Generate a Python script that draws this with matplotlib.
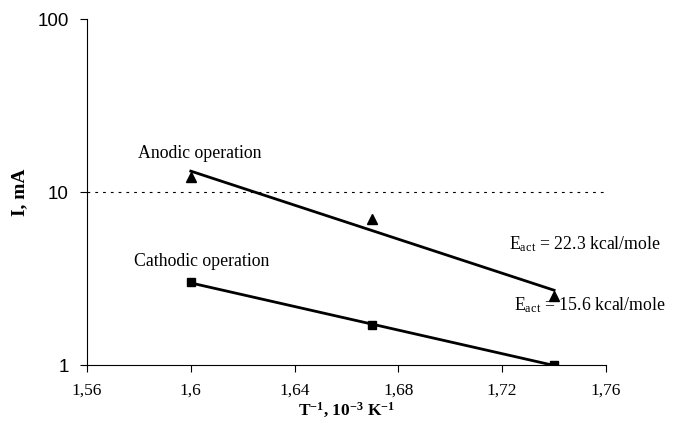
import numpy as np
import matplotlib.pyplot as plt
from matplotlib.ticker import FixedLocator, FixedFormatter, NullLocator

# inverse temperature, 10^-3 K^-1
inv_t = np.array([1.60, 1.67, 1.74])
# current, mA
i_anodic = np.array([12.2, 7.0, 2.5])
i_cathodic = np.array([3.0, 1.7, 1.0])

x_ticks = [1.56, 1.60, 1.64, 1.68, 1.72, 1.76]
x_ticklabels = ["1,56", "1,6", "1,64", "1,68", "1,72", "1,76"]
y_ticks = [1, 10, 100]
y_ticklabels = ["1", "10", "100"]

serif = "Liberation Serif"
sans = "Liberation Sans"

plt.rcParams["mathtext.fontset"] = "custom"
plt.rcParams["mathtext.rm"] = serif
plt.rcParams["mathtext.it"] = serif + ":italic"
plt.rcParams["mathtext.bf"] = serif + ":bold"

fig = plt.figure(figsize=(6.73, 4.41), dpi=100)
ax = fig.add_axes([0.1293, 0.1723, 0.7711, 0.7846])

# Arrhenius fits in log space
def arrhenius_fit(x, y):
    k, b = np.polyfit(x, np.log10(y), 1)
    return 10 ** (k * x + b)

ax.axhline(10, color="black", lw=0.8, ls=(0, (2.5, 4.5)), zorder=1)

ax.plot(inv_t, arrhenius_fit(inv_t, i_anodic), color="black", lw=2.0, zorder=2)
ax.plot(inv_t, arrhenius_fit(inv_t, i_cathodic), color="black", lw=2.0, zorder=2)
ax.plot(inv_t, i_anodic, ls="none", marker="^", ms=6.5, color="black", zorder=3)
ax.plot(inv_t, i_cathodic, ls="none", marker="s", ms=6, color="black", zorder=3)

ax.set_yscale("log")
ax.set_xlim(1.56, 1.76)
ax.set_ylim(1, 100)

ax.xaxis.set_major_locator(FixedLocator(x_ticks))
ax.xaxis.set_major_formatter(FixedFormatter(x_ticklabels))
ax.yaxis.set_major_locator(FixedLocator(y_ticks))
ax.yaxis.set_major_formatter(FixedFormatter(y_ticklabels))
ax.yaxis.set_minor_locator(NullLocator())

for lab in ax.get_xticklabels():
    lab.set_fontfamily(serif)
    lab.set_fontsize(12.5)
for lab in ax.get_yticklabels():
    lab.set_fontfamily(sans)
    lab.set_fontsize(13.5)

ax.tick_params(axis="both", direction="out", length=5, width=0.8, color="black")
ax.tick_params(axis="x", pad=8)
ax.tick_params(axis="y", pad=8)

ax.spines["top"].set_visible(False)
ax.spines["right"].set_visible(False)
ax.spines["left"].set_linewidth(0.8)
ax.spines["bottom"].set_linewidth(0.8)

ax.set_xlabel(r"T$^{\mathbf{-1}}$, 10$^{\mathbf{-3}}$ K$^{\mathbf{-1}}$",
              fontfamily=serif, fontweight="bold", fontsize=12.5, labelpad=1)
ax.set_ylabel("I, mA", fontfamily=serif, fontweight="bold", fontsize=14, labelpad=7)

ax.text(1.6035, 16.8, "Anodic operation", fontfamily=serif, fontsize=12.8, ha="center", va="center")
ax.text(1.604, 3.94, "Cathodic operation", fontfamily=serif, fontsize=12.8, ha="center", va="center")
ax.text(1.7519, 5.0, r"E$_{\mathrm{act}}$ = 22.3 kcal/mole", fontfamily=serif, fontsize=12.8,
        ha="center", va="center")
ax.text(1.7539, 2.22, r"E$_{\mathrm{act}}$ = 15.6 kcal/mole", fontfamily=serif, fontsize=12.8,
        ha="center", va="center")

fig.savefig("out.png", dpi=100)
